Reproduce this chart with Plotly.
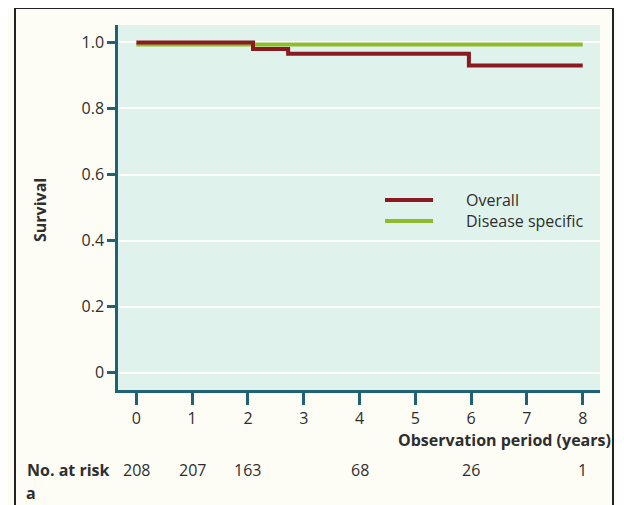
import plotly.graph_objects as go

# ---- data ----
overall_t = [0, 2.09, 2.72, 5.96, 8]
overall_s = [1.0, 0.98, 0.966, 0.93, 0.93]
disease_t = [0, 8]
disease_s = [0.994, 0.994]
series_names = ["Overall", "Disease specific"]
risk_t = [0, 1, 2, 4, 6, 8]
risk_n = [208, 207, 163, 68, 26, 1]
x_ticks = [0, 1, 2, 3, 4, 5, 6, 7, 8]
y_ticks = [0, 0.2, 0.4, 0.6, 0.8, 1.0]
y_tick_text = ["0", "0.2", "0.4", "0.6", "0.8", "1.0"]

RED = "#8a1a1f"
GREEN = "#8fbc2c"
AXIS = "#1f6275"
TXT = "#2e2e2e"
FONT = "Open Sans"
FS = 16

# the page body has an 8px margin, so the figure is drawn 8px in from the corner
OFF = 8
W, H = 624 - OFF, 505 - OFF
L, T = 118 - OFF, 25 - OFF
R = W - (600 - OFF)
B = H - (390 - OFF)
pw, ph = W - L - R, H - T - B


def px_x(p):
    # p: pixel x in the reference screenshot
    return (p - OFF - L) / pw


def px_y(p):
    # p: pixel y in the reference screenshot
    return (H - B - (p - OFF)) / ph


fig = go.Figure()
fig.add_trace(go.Scatter(x=disease_t, y=disease_s, mode="lines", line_shape="hv",
                         line=dict(color=GREEN, width=4), name=series_names[1],
                         showlegend=False))
fig.add_trace(go.Scatter(x=overall_t, y=overall_s, mode="lines", line_shape="hv",
                         line=dict(color=RED, width=4), name=series_names[0],
                         showlegend=False))

shapes = []
annotations = []

# legend (drawn by hand to match the spacing of the original)
for i, (nm, col) in enumerate(zip(series_names, [RED, GREEN])):
    yy = px_y(200 + 21 * i)
    shapes.append(dict(type="line", xref="paper", yref="paper",
                       x0=px_x(385), x1=px_x(433), y0=yy, y1=yy,
                       line=dict(color=col, width=4)))
    annotations.append(dict(xref="paper", yref="paper", x=px_x(464), y=yy,
                            text=nm, showarrow=False, xanchor="left", yanchor="middle",
                            font=dict(family=FONT, size=FS, color=TXT)))

# outer frame
shapes.append(dict(type="rect", xref="paper", yref="paper", layer="below",
                   x0=px_x(15), x1=px_x(613), y0=px_y(520), y1=px_y(8),
                   line=dict(color="#222222", width=2), fillcolor="rgba(0,0,0,0)"))

# number at risk row
ROW_Y = 470
annotations.append(dict(xref="paper", yref="paper", x=px_x(25), y=px_y(ROW_Y),
                        text="<b>No. at risk</b>", showarrow=False, xanchor="left",
                        yanchor="middle", font=dict(family=FONT, size=FS, color=TXT)))
annotations.append(dict(xref="paper", yref="paper", x=px_x(25), y=px_y(493),
                        text="<b>a</b>", showarrow=False, xanchor="left",
                        yanchor="middle", borderpad=0,
                        font=dict(family=FONT, size=FS, color=TXT)))
for t, n in zip(risk_t, risk_n):
    annotations.append(dict(xref="x", yref="paper", x=t, y=px_y(ROW_Y), text=str(n),
                            showarrow=False, xanchor="center", yanchor="middle",
                            font=dict(family=FONT, size=FS, color=TXT)))

# axis titles
annotations.append(dict(xref="paper", yref="paper", x=px_x(613), y=px_y(440),
                        text="<b>Observation period (years)</b>", showarrow=False,
                        xanchor="right", yanchor="middle",
                        font=dict(family=FONT, size=FS, color=TXT)))
annotations.append(dict(xref="paper", yref="paper", x=px_x(40), y=px_y(210),
                        text="<b>Survival</b>", showarrow=False, textangle=-90,
                        xanchor="center", yanchor="middle",
                        font=dict(family=FONT, size=FS, color=TXT)))

fig.update_layout(
    width=W, height=H,
    margin=dict(l=L, r=R, t=T, b=B),
    paper_bgcolor="#fdfdf6",
    plot_bgcolor="#dff2eb",
    shapes=shapes,
    annotations=annotations,
    showlegend=False,
    font=dict(family=FONT, size=FS, color=TXT),
)
fig.update_xaxes(range=[-0.33, 8.31], tickvals=x_ticks, showgrid=False, zeroline=False,
                 showline=True, linecolor=AXIS, linewidth=2.5,
                 ticks="outside", ticklen=12, tickwidth=2.5, tickcolor=AXIS,
                 tickfont=dict(family=FONT, size=FS, color=TXT))
fig.update_yaxes(range=[-0.053, 1.053], tickvals=y_ticks, ticktext=y_tick_text,
                 showgrid=True, gridcolor="white", gridwidth=2, zeroline=False,
                 showline=True, linecolor=AXIS, linewidth=2.5,
                 ticks="outside", ticklen=8, tickwidth=2.5, tickcolor=AXIS,
                 tickfont=dict(family=FONT, size=FS, color=TXT))

fig.write_html("out.html")
